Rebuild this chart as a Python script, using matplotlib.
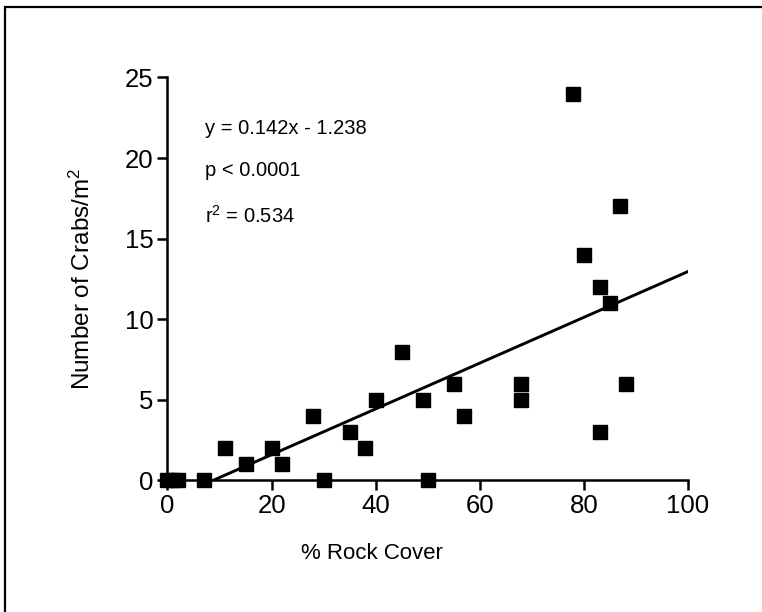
import numpy as np
import matplotlib.pyplot as plt
from matplotlib.patches import Rectangle

plt.rcParams['font.family'] = ['Liberation Sans', 'DejaVu Sans']
plt.rcParams['mathtext.fontset'] = 'custom'
plt.rcParams['mathtext.rm'] = 'Liberation Sans'
plt.rcParams['mathtext.it'] = 'Liberation Sans'

# data
rock_cover = [0, 1, 2, 7, 11, 15, 20, 22, 28, 30, 35, 38, 40, 45, 49, 50,
              55, 57, 68, 68, 78, 80, 83, 85, 87, 83, 88]
crabs = [0, 0, 0, 0, 2, 1, 2, 1, 4, 0, 3, 2, 5, 8, 5, 0,
         6, 4, 6, 5, 24, 14, 12, 11, 17, 3, 6]
slope = 0.142
intercept = -1.238
x_ticks = [0, 20, 40, 60, 80, 100]
y_ticks = [0, 5, 10, 15, 20, 25]

fig = plt.figure(figsize=(7.62, 6.12), dpi=100)
ax = fig.add_axes([0.2198, 0.2149, 0.9029 - 0.2198, 0.8734 - 0.2149])

# regression line, starting where it crosses zero
x0 = -intercept / slope
xs = np.array([x0, 100])
ax.plot(xs, slope * xs + intercept, color='black', lw=2.1, zorder=2)

ax.plot(rock_cover, crabs, 's', color='black', markersize=9.8,
        clip_on=False, zorder=3)

ax.set_xlim(0, 100)
ax.set_ylim(0, 25)
ax.set_xticks(x_ticks)
ax.set_yticks(y_ticks)
ax.spines['top'].set_visible(False)
ax.spines['right'].set_visible(False)
for s in ['left', 'bottom']:
    ax.spines[s].set_linewidth(1.8)
ax.tick_params(direction='out', length=7, width=1.8, labelsize=18.5, pad=3)

ax.text(7.2, 21.85, 'y = 0.142x - 1.238', fontsize=14.5, va='center')
ax.text(7.2, 19.2, 'p < 0.0001', fontsize=14.5, va='center')
ax.text(7.2, 16.4, 'r$^{2}$ = 0.534', fontsize=14.5, va='center')

fig.text(0.488, 0.0964, '% Rock Cover', fontsize=16, ha='center', va='center')
fig.text(0.108, 0.544, 'Number of Crabs/m$^{2}$', fontsize=17.5, rotation=90,
         ha='center', va='center')

# scanned page frame
fig.patches.append(Rectangle((5 / 762, -0.1), 1.2, 1.1 - 7 / 612,
                             transform=fig.transFigure, fill=False,
                             lw=1.6, edgecolor='black'))

fig.savefig('out.png', dpi=100)
